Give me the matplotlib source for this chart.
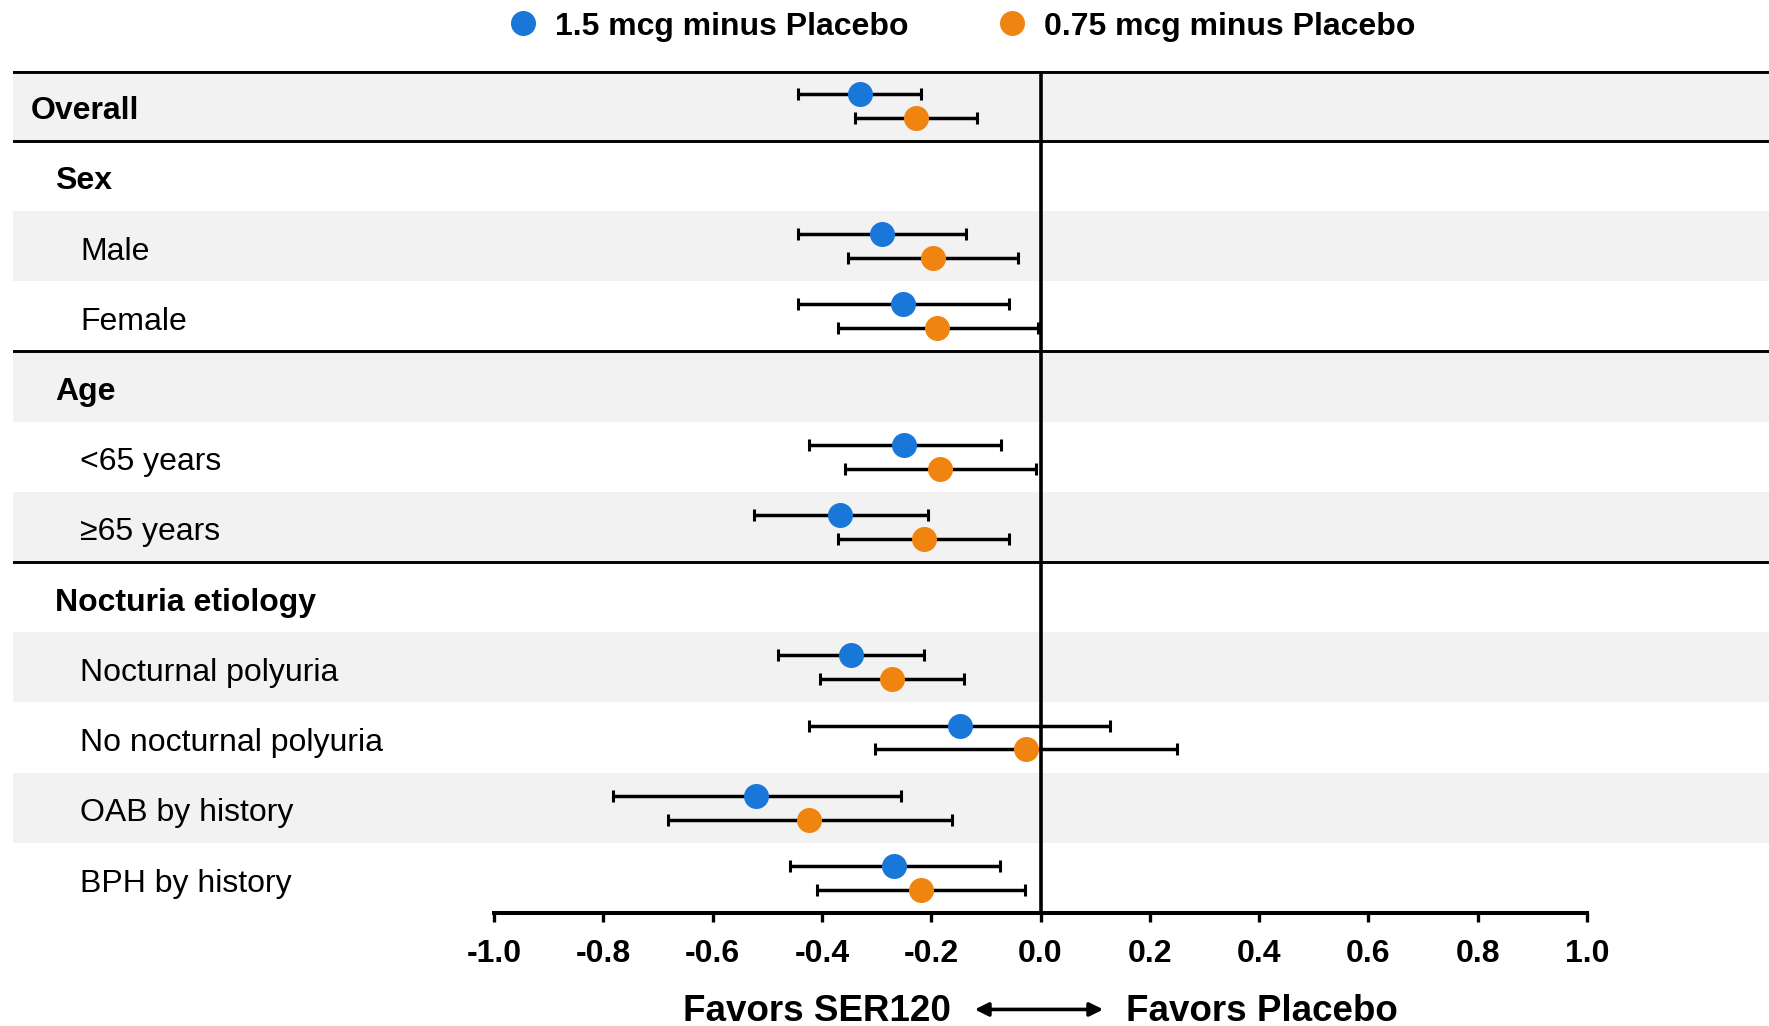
import matplotlib
matplotlib.use("Agg")
import matplotlib.pyplot as plt
from matplotlib.lines import Line2D
import numpy as np

plt.rcParams['font.family'] = ['Liberation Sans', 'DejaVu Sans']

# ---- data ----
row_labels = ["Overall", "Sex", "Male", "Female", "Age", "<65 years", "≥65 years",
              "Nocturia etiology", "Nocturnal polyuria", "No nocturnal polyuria",
              "OAB by history", "BPH by history"]
row_level = [0, 1, 2, 2, 1, 2, 2, 1, 2, 2, 2, 2]   # 0 = overall, 1 = header, 2 = subgroup
data_rows = ["Overall", "Male", "Female", "<65 years", "≥65 years",
             "Nocturnal polyuria", "No nocturnal polyuria", "OAB by history", "BPH by history"]

est_15 = [-0.331, -0.290, -0.251, -0.249, -0.367, -0.347, -0.148, -0.521, -0.268]
lo_15 = [-0.443, -0.444, -0.443, -0.424, -0.525, -0.481, -0.423, -0.783, -0.459]
hi_15 = [-0.218, -0.136, -0.058, -0.072, -0.206, -0.214, 0.127, -0.256, -0.075]

est_075 = [-0.227, -0.197, -0.189, -0.184, -0.214, -0.272, -0.027, -0.423, -0.219]
lo_075 = [-0.339, -0.352, -0.371, -0.358, -0.371, -0.403, -0.302, -0.682, -0.409]
hi_075 = [-0.116, -0.042, -0.005, -0.008, -0.057, -0.140, 0.249, -0.162, -0.028]

series_names = ["1.5 mcg minus Placebo", "0.75 mcg minus Placebo"]
xticks = [-1.0, -0.8, -0.6, -0.4, -0.2, 0.0, 0.2, 0.4, 0.6, 0.8, 1.0]
left_label = "Favors SER120"
right_label = "Favors Placebo"

# ---- styling ----
BLUE = '#1877D8'
ORANGE = '#EF8410'
GRAY = '#F2F2F2'
W, H, DPI = 1769, 1026, 100

fig = plt.figure(figsize=(W / DPI, H / DPI), dpi=DPI)
ax_left_px, ax_right_px = 13, 1769
ax_top_px, ax_bot_px = 70.5, 913
ax = fig.add_axes([ax_left_px / W, 1 - ax_bot_px / H,
                   (ax_right_px - ax_left_px) / W, (ax_bot_px - ax_top_px) / H])

# x scale: -1 at 494 px, +1 at 1587 px
x0_px, x1_px = 494, 1587
ppu = (x1_px - x0_px) / 2.0
zero_px = (x0_px + x1_px) / 2.0
ax.set_xlim((ax_left_px - zero_px) / ppu, (ax_right_px - zero_px) / ppu)
n = len(row_labels)
ax.set_ylim(n - 0.5, -0.5)

# bands
for i in range(n):
    if i % 2 == 0:
        ax.axhspan(i - 0.5, i + 0.5, color=GRAY, lw=0, zorder=0)

# separators
ax.axhline(-0.5, color='black', lw=4.2, zorder=2)
for yb in [0.5, 3.5, 6.5]:
    ax.axhline(yb, color='black', lw=2.1, zorder=2)

ax.axvline(0, color='black', lw=2.6, zorder=2)

# data
ypos = np.array([row_labels.index(r) for r in data_rows], dtype=float)
off = 0.17
for est, lo, hi, col, dy in [(est_15, lo_15, hi_15, BLUE, -off),
                             (est_075, lo_075, hi_075, ORANGE, off)]:
    est = np.array(est); lo = np.array(lo); hi = np.array(hi)
    ax.errorbar(est, ypos + dy, xerr=[est - lo, hi - est], fmt='none',
                ecolor='black', elinewidth=2.5, capsize=4.5, capthick=2.2, zorder=3)
    ax.plot(est, ypos + dy, 'o', color=col, markersize=18, markeredgewidth=0, zorder=4)

# row labels
indent_px = {0: 31, 1: 55, 2: 80}
for i, (lab, lev) in enumerate(zip(row_labels, row_level)):
    xd = (indent_px[lev] - zero_px) / ppu
    ax.text(xd, i + 0.08, lab, ha='left', va='center', fontsize=23,
            fontweight='bold' if lev < 2 else 'normal', zorder=5)

# axes
for s in ['top', 'left', 'right']:
    ax.spines[s].set_visible(False)
ax.spines['bottom'].set_bounds(-1, 1)
ax.spines['bottom'].set_linewidth(2.9)
ax.spines['bottom'].set_zorder(6)
ax.set_yticks([])
ax.set_xticks(xticks)
ax.set_xticklabels([f"{t:.1f}" for t in xticks], fontsize=23, fontweight='bold')
ax.tick_params(axis='x', length=6.5, width=2.4, pad=12.5, direction='out')

# bottom direction labels
y_lab = 1 - 1011.5 / H
fig.text(951 / W, y_lab, left_label, ha='right', va='center', fontsize=26.5, fontweight='bold')
fig.text(1126 / W, y_lab, right_label, ha='left', va='center', fontsize=26.5, fontweight='bold')
fig.patches.append(matplotlib.patches.FancyArrowPatch(
    (972 / W, y_lab + 0.002), (1106 / W, y_lab + 0.002), transform=fig.transFigure,
    arrowstyle='<|-|>', mutation_scale=20, lw=2.6, color='black'))

# legend
handles = [Line2D([], [], marker='o', ls='none', color=BLUE, markersize=18, markeredgewidth=0),
           Line2D([], [], marker='o', ls='none', color=ORANGE, markersize=18, markeredgewidth=0)]
leg = fig.legend(handles, series_names, loc='center', bbox_to_anchor=(963 / W, 1 - 26.5 / H),
                 ncol=2, frameon=False, handlelength=0.8, handletextpad=0.6,
                 columnspacing=2.85, prop={'size': 23, 'weight': 'bold'})

fig.savefig("out.png", dpi=DPI)
